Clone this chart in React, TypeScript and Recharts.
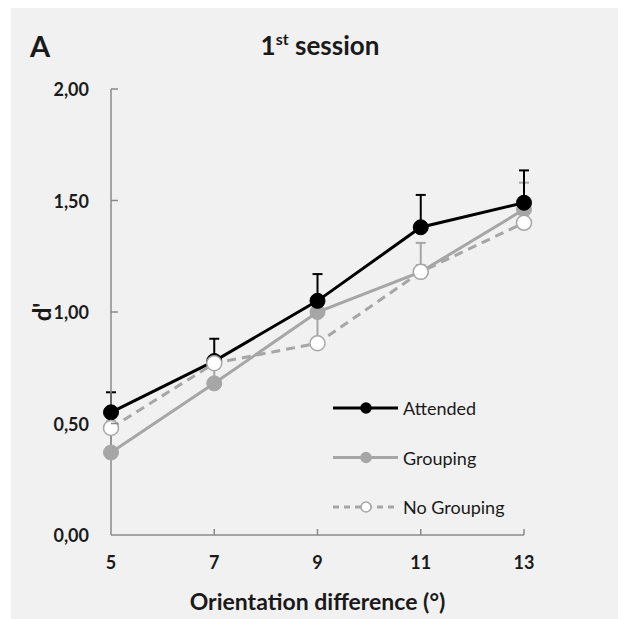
import React from 'react';
import { LineChart, Line, XAxis, YAxis, ErrorBar, Legend, Label } from 'recharts';

const categories = [5, 7, 9, 11, 13];
const attended = [0.55, 0.78, 1.05, 1.38, 1.49];
const attendedErr = [0.09, 0.1, 0.12, 0.145, 0.145];
const grouping = [0.37, 0.68, 1.0, 1.18, 1.46];
const groupingErr = [0.09, 0.07, 0.06, 0.03, 0.12];
const noGrouping = [0.48, 0.77, 0.86, 1.18, 1.4];
const noGroupingErr = [0.03, 0.03, 0.13, 0.13, 0.05];
const yTicks = [0, 0.5, 1, 1.5, 2];
const seriesNames = ['Attended', 'Grouping', 'No Grouping'];

const data = categories.map((x, i) => ({
  x,
  attended: attended[i],
  attendedErr: [0, attendedErr[i]],
  grouping: grouping[i],
  groupingErr: [0, groupingErr[i]],
  noGrouping: noGrouping[i],
  noGroupingErr: [0, noGroupingErr[i]],
}));

const FONT = 'Lato, "Open Sans", sans-serif';
const AXIS = '#8a8a8a';
const GRAY = '#a6a6a6';
const TEXT = '#1a1a1a';
const Y_MARGIN = 22;
const X_MARGIN = 27;

const fmt = (v: number) => v.toFixed(2).replace('.', ',');

const YTick = (props: any) => {
  const { x, y, payload } = props;
  const ax = x + Y_MARGIN;
  return (
    <g>
      <text x={x} y={y} textAnchor="end" dominantBaseline="central" fontFamily={FONT} fontSize={18} fontWeight={700} fill={TEXT}>
        {fmt(payload.value)}
      </text>
      {payload.value !== 0 && <line x1={ax} x2={ax + 7} y1={y} y2={y} stroke={AXIS} strokeWidth={1.5} />}
    </g>
  );
};

const XTick = (props: any) => {
  const { x, y, payload } = props;
  const ay = y - X_MARGIN;
  return (
    <g>
      <text x={x} y={y} textAnchor="middle" dominantBaseline="central" fontFamily={FONT} fontSize={18} fontWeight={700} fill={TEXT}>
        {payload.value}
      </text>
      {payload.value !== categories[0] && <line x1={x} x2={x} y1={ay} y2={ay - 6} stroke={AXIS} strokeWidth={1.5} />}
    </g>
  );
};

const LegendContent = () => {
  const rows = [
    { name: seriesNames[0], color: '#000', fill: '#000', dash: undefined },
    { name: seriesNames[1], color: GRAY, fill: GRAY, dash: undefined },
    { name: seriesNames[2], color: GRAY, fill: '#fff', dash: '6 5' },
  ];
  return (
    <svg width={220} height={120}>
      {rows.map((r, i) => {
        const cy = 10 + i * 49.5;
        return (
          <g key={r.name}>
            <line x1={0} x2={65} y1={cy} y2={cy} stroke={r.color} strokeWidth={3} strokeDasharray={r.dash} />
            <circle cx={33} cy={cy} r={5} fill={r.fill} stroke={r.color} strokeWidth={1.5} />
            <text x={70} y={cy} dominantBaseline="central" fontFamily={FONT} fontSize={18} fill={TEXT}>
              {r.name}
            </text>
          </g>
        );
      })}
    </svg>
  );
};

export default function App() {
  return (
    <div style={{ marginLeft: 3, width: 614, height: 611, background: '#f1f1f1', position: 'relative', fontFamily: FONT }}>
      <div style={{ position: 'absolute', left: 19, top: 21, fontSize: 29, fontWeight: 700, color: TEXT, lineHeight: '34px' }}>A</div>
      <div style={{ position: 'absolute', left: 309, top: 21, transform: 'translateX(-50%)', fontSize: 26, fontWeight: 700, color: TEXT, lineHeight: '32px', whiteSpace: 'nowrap' }}>
        1<sup style={{ fontSize: 16, lineHeight: 0 }}>st</sup> session
      </div>
      <LineChart width={614} height={611} data={data} margin={{ top: 81, right: 101, bottom: 0, left: 0 }}>
        <XAxis
          dataKey="x"
          type="number"
          domain={[5, 13]}
          ticks={categories}
          height={84}
          tickSize={0}
          tickMargin={X_MARGIN}
          tick={<XTick />}
          stroke={AXIS}
          strokeWidth={1.5}
        >
          <Label value="Orientation difference (°)" position="insideBottom" offset={9} style={{ fontFamily: FONT, fontSize: 23, fontWeight: 700, fill: TEXT }} />
        </XAxis>
        <YAxis
          type="number"
          domain={[0, 2]}
          ticks={yTicks}
          width={100}
          tickSize={0}
          tickMargin={Y_MARGIN}
          tick={<YTick />}
          stroke={AXIS}
          strokeWidth={1.5}
        >
          <Label value="d'" angle={-90} position="insideLeft" offset={31} style={{ fontFamily: FONT, fontSize: 24, fontWeight: 700, fill: TEXT, textAnchor: 'middle' }} />
        </YAxis>
        <Legend layout="vertical" align="center" verticalAlign="middle" content={<LegendContent />} wrapperStyle={{ left: 322, top: 390, width: 220, height: 120 }} />
        <Line
          dataKey="grouping"
          name={seriesNames[1]}
          stroke={GRAY}
          strokeWidth={3}
          dot={{ r: 7.5, fill: GRAY, stroke: GRAY, strokeWidth: 1 }}
          isAnimationActive={false}
        >
          <ErrorBar dataKey="groupingErr" direction="y" stroke={GRAY} strokeWidth={2} width={5} />
        </Line>
        <Line
          dataKey="attended"
          name={seriesNames[0]}
          stroke="#000"
          strokeWidth={3}
          dot={{ r: 7.5, fill: '#000', stroke: '#000', strokeWidth: 1 }}
          isAnimationActive={false}
        >
          <ErrorBar dataKey="attendedErr" direction="y" stroke="#000" strokeWidth={2} width={5} />
        </Line>
        <Line
          dataKey="noGrouping"
          name={seriesNames[2]}
          stroke={GRAY}
          strokeWidth={3}
          strokeDasharray="9 6"
          dot={{ r: 7.5, fill: '#fff', stroke: GRAY, strokeWidth: 1.5, strokeDasharray: '0' }}
          isAnimationActive={false}
        >
          <ErrorBar dataKey="noGroupingErr" direction="y" stroke={GRAY} strokeWidth={2} width={5} />
        </Line>
      </LineChart>
    </div>
  );
}
